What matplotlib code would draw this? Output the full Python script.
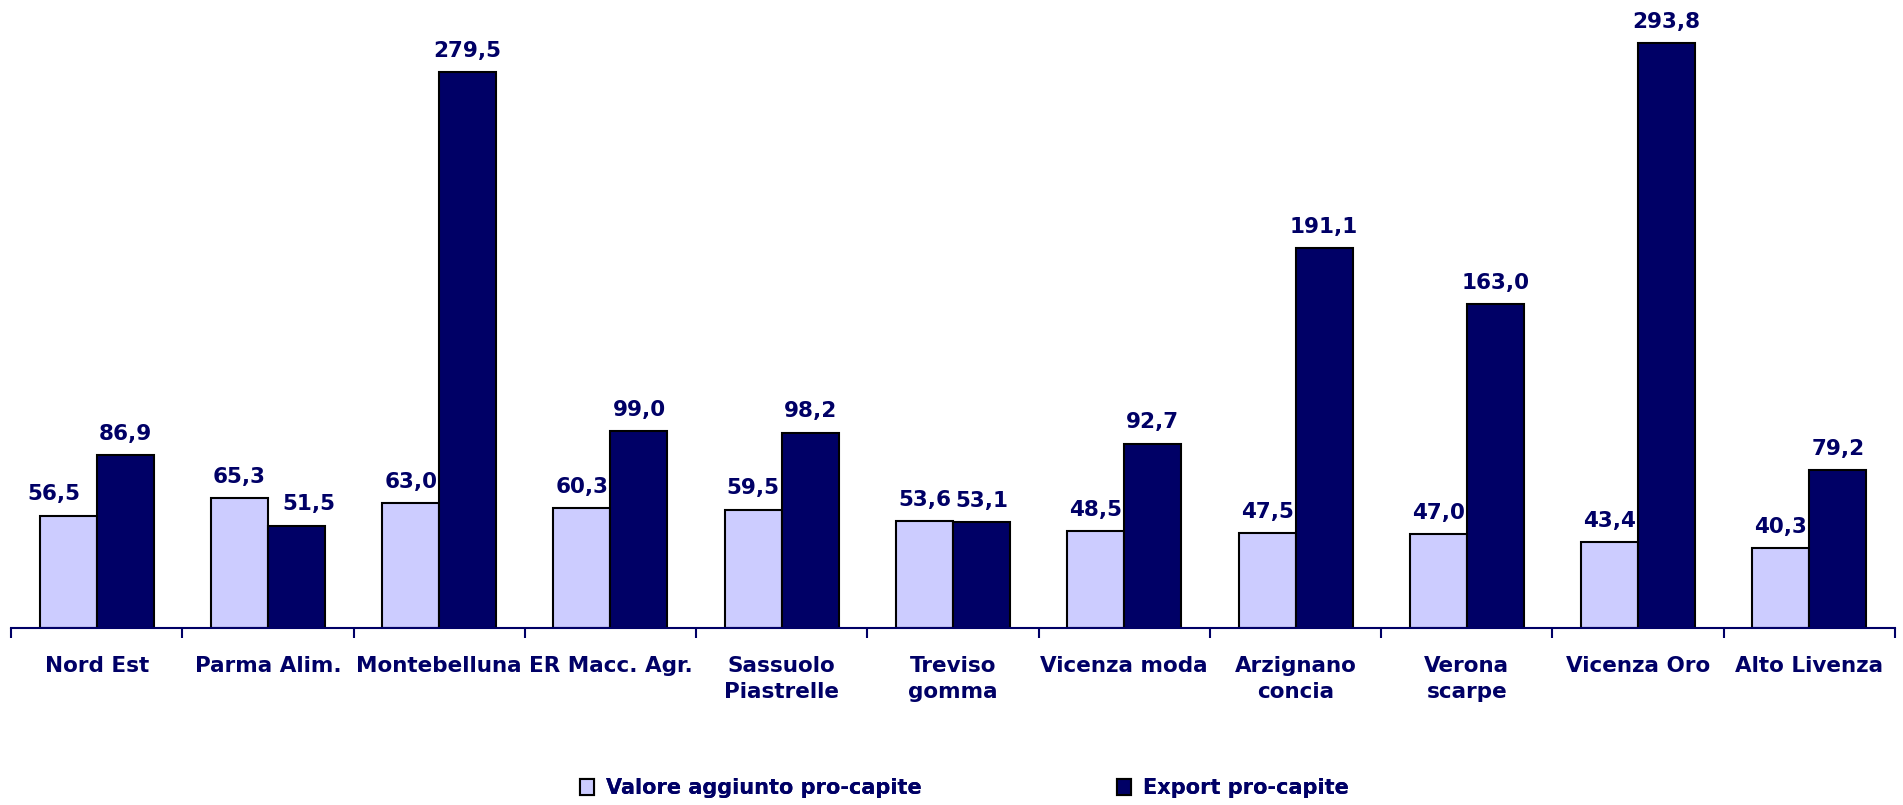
import matplotlib
matplotlib.use("Agg")
import matplotlib.pyplot as plt
from matplotlib.patches import Patch
import numpy as np

categories = ["Nord Est", "Parma Alim.", "Montebelluna", "ER Macc. Agr.", "Sassuolo\nPiastrelle",
              "Treviso\ngomma", "Vicenza moda", "Arzignano\nconcia", "Verona\nscarpe",
              "Vicenza Oro", "Alto Livenza"]
valore_aggiunto = [56.5, 65.3, 63.0, 60.3, 59.5, 53.6, 48.5, 47.5, 47.0, 43.4, 40.3]
export = [86.9, 51.5, 279.5, 99.0, 98.2, 53.1, 92.7, 191.1, 163.0, 293.8, 79.2]
series_names = ["Valore aggiunto pro-capite", "Export pro-capite"]

LIGHT = "#CCCCFF"
DARK = "#000066"
TXT = "#000066"

fig = plt.figure(figsize=(19.03, 8.05), dpi=100)
ax = fig.add_axes([11/1903, 1 - 628/805, (1895 - 11)/1903, 628/805])

x = np.arange(len(categories))
w = 0.333
b1 = ax.bar(x - w/2, valore_aggiunto, width=w, color=LIGHT, edgecolor="black", linewidth=1.5)
b2 = ax.bar(x + w/2, export, width=w, color=DARK, edgecolor="black", linewidth=1.5)

ax.set_xlim(-0.5, len(categories) - 0.5)
ax.set_ylim(0, 628/1.99)

fmt = lambda v: f"{v:.1f}".replace(".", ",")
xoff1 = [-10] + [0]*10
xoff2 = [0, 9] + [0]*9
for i, (r, v) in enumerate(zip(b1, valore_aggiunto)):
    ax.annotate(fmt(v), (r.get_x() + r.get_width()/2, v), xytext=(xoff1[i], 8),
                textcoords="offset points", ha="center", va="bottom",
                fontsize=15.5, fontweight="bold", color=TXT)
for i, (r, v) in enumerate(zip(b2, export)):
    ax.annotate(fmt(v), (r.get_x() + r.get_width()/2, v), xytext=(xoff2[i], 8),
                textcoords="offset points", ha="center", va="bottom",
                fontsize=15.5, fontweight="bold", color=TXT)

for s in ["left", "top", "right"]:
    ax.spines[s].set_visible(False)
ax.spines["bottom"].set_color(DARK)
ax.spines["bottom"].set_linewidth(1.5)
ax.set_yticks([])
ax.set_xticks(x)
ax.set_xticklabels(categories, fontsize=15.5, fontweight="bold", color=TXT, linespacing=1.38)
ax.tick_params(axis="x", which="major", length=0, pad=20)
ax.set_xticks(np.arange(-0.5, len(categories)), minor=True)
ax.tick_params(axis="x", which="minor", length=7, width=1.5, color=DARK, direction="out")

prop = {"family": "DejaVu Sans", "weight": "bold", "size": 15}
for h, name, xpos in [(LIGHT, series_names[0], 580), (DARK, series_names[1], 1117)]:
    leg = fig.legend([Patch(facecolor=h, edgecolor="black", linewidth=1.5)], [name],
                     loc="center left", bbox_to_anchor=(xpos/1903, 1 - 788/805),
                     frameon=False, handlelength=0.65, handleheight=0.8, handletextpad=0.6,
                     borderaxespad=0, borderpad=0, prop=prop)
    for t in leg.get_texts():
        t.set_color(TXT)
    fig.add_artist(leg)

fig.savefig("out.png", dpi=100)
